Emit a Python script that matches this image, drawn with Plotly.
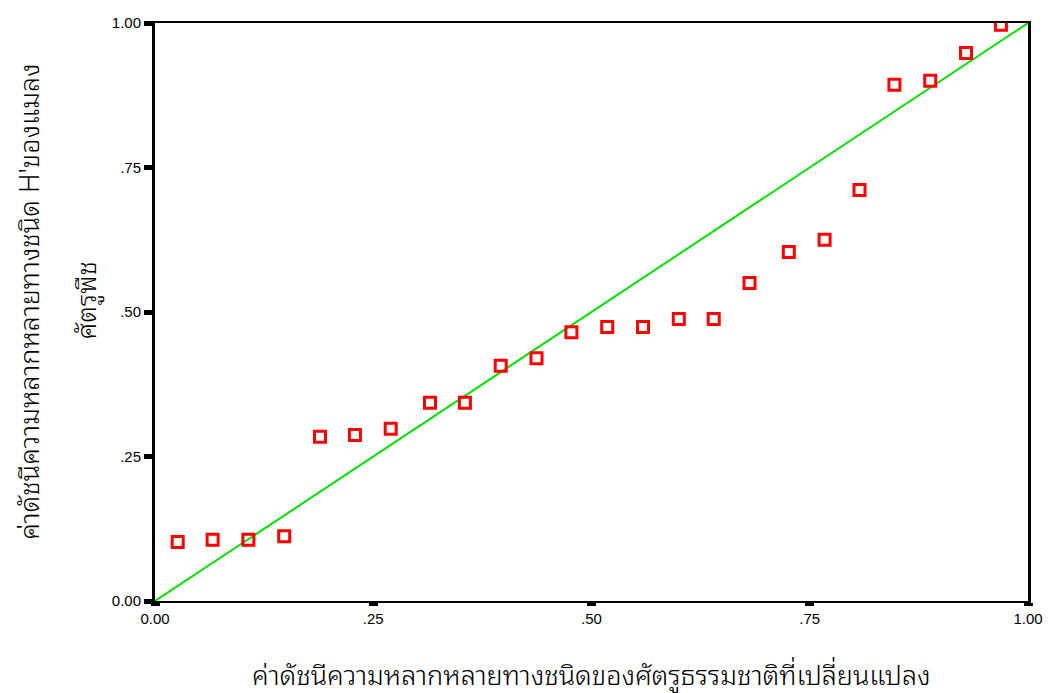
import plotly.graph_objects as go

# Observed cumulative probability (x) vs expected (y) - P-P plot
obs_x = [0.026, 0.066, 0.107, 0.148, 0.189, 0.229, 0.270, 0.315, 0.355, 0.396,
         0.437, 0.477, 0.518, 0.559, 0.600, 0.640, 0.681, 0.726, 0.767, 0.807,
         0.847, 0.888, 0.929, 0.969]
exp_y = [0.102, 0.106, 0.106, 0.112, 0.284, 0.287, 0.298, 0.343, 0.343, 0.407,
         0.420, 0.465, 0.474, 0.474, 0.488, 0.488, 0.550, 0.604, 0.625, 0.711,
         0.893, 0.900, 0.948, 0.997]
diag = [0.0, 1.0]
tick_vals = [0.0, 0.25, 0.5, 0.75, 1.0]
tick_text = ["0.00", ".25", ".50", ".75", "1.00"]

x_title = "ค่าดัชนีความหลากหลายทางชนิดของศัตรูธรรมชาติที่เปลี่ยนแปลง"
y_title_1 = "ค่าดัชนีความหลากหลายทางชนิด H'ของแมลง"
y_title_2 = "ศัตรูพืช"

thai_font = "Noto Sans Thai Looped, Noto Sans Thai, Tahoma, DejaVu Sans, sans-serif"

fig = go.Figure()
fig.add_trace(go.Scatter(x=diag, y=diag, mode="lines",
                         line=dict(color="#00e000", width=2),
                         hoverinfo="skip", showlegend=False))
fig.add_trace(go.Scatter(x=obs_x, y=exp_y, mode="markers",
                         marker=dict(symbol="square-open", size=11,
                                     color="#ff0000",
                                     line=dict(color="#ff0000", width=3)),
                         showlegend=False))

fig.update_layout(
    width=1055, height=693, autosize=False,
    margin=dict(l=155, r=15, t=23, b=92),
    plot_bgcolor="white", paper_bgcolor="white",
    font=dict(family="Arial, Liberation Sans, sans-serif", size=15, color="black"),
    xaxis=dict(range=[0, 1], tickvals=tick_vals, ticktext=tick_text,
               showgrid=False, zeroline=False,
               showline=True, linecolor="black", linewidth=2, mirror=True,
               ticks="outside", ticklen=3, tickwidth=9, tickcolor="black",
               tickfont=dict(size=15), title=None),
    yaxis=dict(range=[0, 1], tickvals=tick_vals, ticktext=tick_text,
               showgrid=False, zeroline=False,
               showline=True, linecolor="black", linewidth=3, mirror=True,
               ticks="outside", ticklen=8, tickwidth=5, tickcolor="black",
               tickfont=dict(size=15), title=None),
    annotations=[
        dict(text=x_title, xref="paper", yref="paper", x=0.5, y=-0.123,
             xanchor="center", yanchor="middle", showarrow=False,
             font=dict(family=thai_font, size=27, color="black", weight=300)),
        dict(text=y_title_1, xref="paper", yref="paper", x=-0.147, y=0.517,
             xanchor="center", yanchor="middle", textangle=-90, showarrow=False,
             font=dict(family=thai_font, size=27, color="black", weight=300)),
        dict(text=y_title_2, xref="paper", yref="paper", x=-0.0825, y=0.52,
             xanchor="center", yanchor="middle", textangle=-90, showarrow=False,
             font=dict(family=thai_font, size=27, color="black", weight=300)),
    ],
)

post = ("document.body.style.margin='0';"
        "document.body.style.overflow='hidden';")
fig.write_html("out.html",
               config={"displayModeBar": False, "responsive": False},
               post_script=post)
